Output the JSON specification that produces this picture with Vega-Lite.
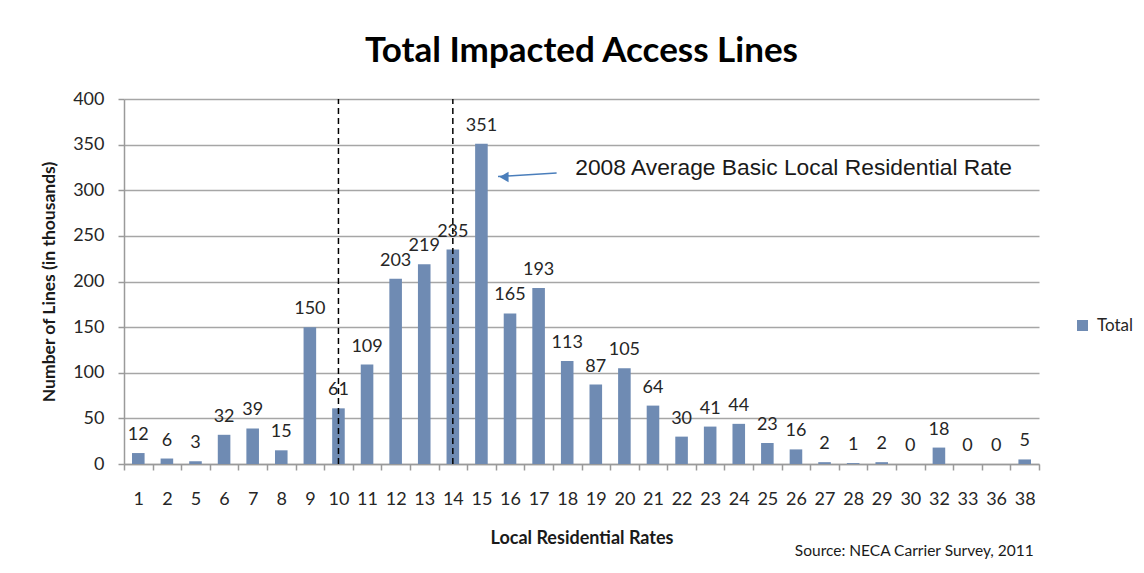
{
  "$schema": "https://vega.github.io/schema/vega-lite/v6.json",
  "width": 915,
  "height": 365,
  "autosize": {"type": "none"},
  "padding": {"left": 124, "top": 99, "right": 105, "bottom": 109},
  "background": "white",
  "config": {
    "view": {"stroke": null},
    "axisX": {
      "labelAngle": 0, "labelFont": "Lato", "labelFontSize": 18, "labelColor": "#262626", "labelPadding": 20,
      "titleFont": "Lato", "titleFontSize": 18, "titleFontWeight": "bold", "titleColor": "#1a1a1a", "titlePadding": 21,
      "tickBand": "extent", "tickSize": 6, "tickColor": "#9a9a9a", "tickWidth": 1.5,
      "domainColor": "#9a9a9a", "domainWidth": 1.5, "grid": false
    },
    "axisY": {
      "titleFont": "Lato", "titleFontSize": 17.5, "titleFontWeight": "bold", "titleColor": "#1a1a1a", "titlePadding": 14,
      "labelFont": "Lato", "labelFontSize": 18, "labelColor": "#262626", "labelPadding": 14,
      "tickSize": 6, "tickColor": "#9a9a9a", "tickWidth": 1.5,
      "domainColor": "#9a9a9a", "domainWidth": 1.5,
      "grid": true, "gridColor": "#a6a6a6", "gridWidth": 1.5
    }
  },
  "title": {"text": "Total Impacted Access Lines", "font": "Lato", "fontSize": 35, "fontWeight": "bold", "color": "#000000", "anchor": "middle", "offset": 21},
  "datasets": {
    "lines": [
      {"rate": "1", "lines": 12, "series": "Total"},
      {"rate": "2", "lines": 6, "series": "Total"},
      {"rate": "5", "lines": 3, "series": "Total"},
      {"rate": "6", "lines": 32, "series": "Total"},
      {"rate": "7", "lines": 39, "series": "Total"},
      {"rate": "8", "lines": 15, "series": "Total"},
      {"rate": "9", "lines": 150, "series": "Total"},
      {"rate": "10", "lines": 61, "series": "Total"},
      {"rate": "11", "lines": 109, "series": "Total"},
      {"rate": "12", "lines": 203, "series": "Total"},
      {"rate": "13", "lines": 219, "series": "Total"},
      {"rate": "14", "lines": 235, "series": "Total"},
      {"rate": "15", "lines": 351, "series": "Total"},
      {"rate": "16", "lines": 165, "series": "Total"},
      {"rate": "17", "lines": 193, "series": "Total"},
      {"rate": "18", "lines": 113, "series": "Total"},
      {"rate": "19", "lines": 87, "series": "Total"},
      {"rate": "20", "lines": 105, "series": "Total"},
      {"rate": "21", "lines": 64, "series": "Total"},
      {"rate": "22", "lines": 30, "series": "Total"},
      {"rate": "23", "lines": 41, "series": "Total"},
      {"rate": "24", "lines": 44, "series": "Total"},
      {"rate": "25", "lines": 23, "series": "Total"},
      {"rate": "26", "lines": 16, "series": "Total"},
      {"rate": "27", "lines": 2, "series": "Total"},
      {"rate": "28", "lines": 1, "series": "Total"},
      {"rate": "29", "lines": 2, "series": "Total"},
      {"rate": "30", "lines": 0, "series": "Total"},
      {"rate": "32", "lines": 18, "series": "Total"},
      {"rate": "33", "lines": 0, "series": "Total"},
      {"rate": "36", "lines": 0, "series": "Total"},
      {"rate": "38", "lines": 5, "series": "Total"}
    ],
    "markers": [{"rate": "10"}, {"rate": "14"}]
  },
  "layer": [
    {
      "data": {"name": "lines"},
      "mark": {"type": "bar", "width": {"band": 0.44}},
      "encoding": {
        "x": {
          "field": "rate", "type": "nominal", "sort": null, "title": "Local Residential  Rates",
          "scale": {"domain": ["1","2","5","6","7","8","9","10","11","12","13","14","15","16","17","18","19","20","21","22","23","24","25","26","27","28","29","30","32","33","36","38"], "paddingInner": 0, "paddingOuter": 0}
        },
        "y": {
          "field": "lines", "type": "quantitative", "title": "Number of Lines (in thousands)",
          "scale": {"domain": [0, 400], "nice": false},
          "axis": {"values": [0, 50, 100, 150, 200, 250, 300, 350, 400]}
        },
        "color": {
          "field": "series", "type": "nominal",
          "scale": {"range": ["#6f8bb3"]},
          "legend": {"title": null, "orient": "none", "legendX": 950, "legendY": 218, "symbolType": "square", "symbolSize": 121, "symbolStrokeWidth": 0, "labelFont": "Lato", "labelFontSize": 17, "labelColor": "#262626", "labelOffset": 6}
        }
      }
    },
    {
      "data": {"name": "lines"},
      "mark": {"type": "text", "font": "Lato", "fontSize": 18, "color": "#262626", "baseline": "alphabetic", "dy": -13},
      "encoding": {
        "x": {"field": "rate", "type": "nominal", "sort": null, "title": "Local Residential  Rates"},
        "y": {"field": "lines", "type": "quantitative", "title": "Number of Lines (in thousands)"},
        "text": {"field": "lines", "type": "quantitative"}
      }
    },
    {
      "data": {"name": "markers"},
      "mark": {"type": "rule", "color": "#000000", "strokeWidth": 1.5, "strokeDash": [6, 4]},
      "encoding": {
        "x": {"field": "rate", "type": "nominal", "sort": null, "title": "Local Residential  Rates"},
        "y": {"datum": 0, "title": "Number of Lines (in thousands)"},
        "y2": {"datum": 400}
      }
    },
    {
      "data": {"values": [{"label": "2008 Average Basic Local Residential Rate"}]},
      "mark": {"type": "text", "font": "Liberation Sans", "fontSize": 22.8, "color": "#1a1a1a", "align": "left", "baseline": "middle", "dx": 8},
      "encoding": {
        "x": {"datum": "18", "type": "nominal", "title": "Local Residential  Rates"},
        "y": {"datum": 324, "type": "quantitative", "title": "Number of Lines (in thousands)"},
        "text": {"field": "label"}
      }
    },
    {
      "data": {"values": [{"a": 1}]},
      "mark": {"type": "rule", "color": "#4a7ebb", "strokeWidth": 1.5, "xOffset": 18, "x2Offset": -12},
      "encoding": {
        "x": {"datum": "17", "type": "nominal", "title": "Local Residential  Rates"},
        "x2": {"datum": "16"},
        "y": {"datum": 319, "type": "quantitative", "title": "Number of Lines (in thousands)"},
        "y2": {"datum": 315}
      }
    },
    {
      "data": {"values": [{"a": 1}]},
      "mark": {"type": "point", "shape": "triangle-left", "filled": true, "color": "#4a7ebb", "size": 110, "opacity": 1, "xOffset": -6},
      "encoding": {
        "x": {"datum": "16", "type": "nominal", "title": "Local Residential  Rates"},
        "y": {"datum": 314.5, "type": "quantitative", "title": "Number of Lines (in thousands)"}
      }
    },
    {
      "data": {"values": [{"label": "Source: NECA Carrier Survey,  2011"}]},
      "mark": {"type": "text", "font": "Lato", "fontSize": 15.5, "color": "#1a1a1a", "align": "center", "baseline": "middle", "dx": 4},
      "encoding": {
        "x": {"datum": "30", "type": "nominal", "title": "Local Residential  Rates"},
        "y": {"datum": -95, "type": "quantitative", "title": "Number of Lines (in thousands)"},
        "text": {"field": "label"}
      }
    }
  ]
}
